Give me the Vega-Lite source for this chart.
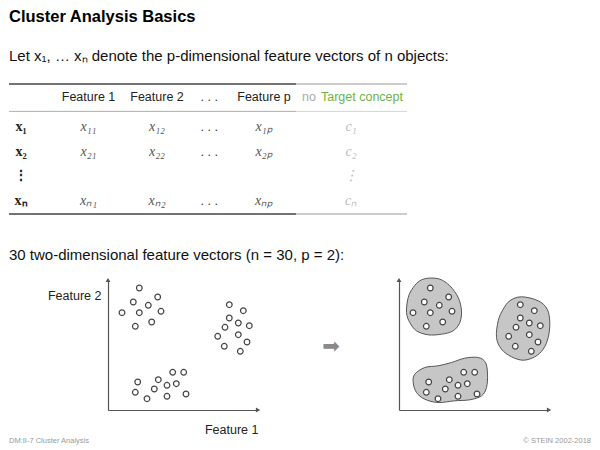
{
  "$schema": "https://vega.github.io/schema/vega-lite/v6.json",
  "background": "white",
  "padding": {"left": 8, "top": 8, "right": 10, "bottom": 2},
  "bounds": "flush",
  "spacing": 66,
  "config": {
    "view": {"stroke": null},
    "font": "Liberation Sans",
    "axis": {"grid": false, "ticks": false, "labels": false, "domainColor": "#555", "domainWidth": 1.2, "titleFont": "Liberation Sans", "titleFontSize": 12.5, "titleFontWeight": "normal", "titleColor": "#222"},
    "title": {"font": "Liberation Sans", "anchor": "start", "frame": "group", "color": "#111"}
  },
  "datasets": {
    "table": [
      {"kind": "header", "row": 0, "col": 1, "label": "Feature 1"},
      {"kind": "header", "row": 0, "col": 2, "label": "Feature 2"},
      {"kind": "dots", "row": 0, "col": 3, "label": ". . ."},
      {"kind": "header", "row": 0, "col": 4, "label": "Feature p"},
      {"kind": "targetNo", "row": 0, "col": 5, "label": "no"},
      {"kind": "targetName", "row": 0, "col": 5, "label": "Target concept"},
      {"kind": "obj", "row": 1, "col": 0, "label": "x₁"},
      {"kind": "value", "row": 1, "col": 1, "label": "x₁₁"},
      {"kind": "value", "row": 1, "col": 2, "label": "x₁₂"},
      {"kind": "dots", "row": 1, "col": 3, "label": ". . ."},
      {"kind": "value", "row": 1, "col": 4, "label": "x₁ₚ"},
      {"kind": "class", "row": 1, "col": 5, "label": "c₁"},
      {"kind": "obj", "row": 2, "col": 0, "label": "x₂"},
      {"kind": "value", "row": 2, "col": 1, "label": "x₂₁"},
      {"kind": "value", "row": 2, "col": 2, "label": "x₂₂"},
      {"kind": "dots", "row": 2, "col": 3, "label": ". . ."},
      {"kind": "value", "row": 2, "col": 4, "label": "x₂ₚ"},
      {"kind": "class", "row": 2, "col": 5, "label": "c₂"},
      {"kind": "obj", "row": 3, "col": 0, "label": "⋮"},
      {"kind": "class", "row": 3, "col": 5, "label": "⋮"},
      {"kind": "obj", "row": 4, "col": 0, "label": "xₙ"},
      {"kind": "value", "row": 4, "col": 1, "label": "xₙ₁"},
      {"kind": "value", "row": 4, "col": 2, "label": "xₙ₂"},
      {"kind": "dots", "row": 4, "col": 3, "label": ". . ."},
      {"kind": "value", "row": 4, "col": 4, "label": "xₙₚ"},
      {"kind": "class", "row": 4, "col": 5, "label": "cₙ"}
    ],
    "rules": [
      {"line": "top", "section": "features", "row": -0.5, "from": -0.5, "to": 4.5},
      {"line": "top", "section": "target", "row": -0.5, "from": 4.5, "to": 5.5},
      {"line": "header", "section": "features", "row": 0.5, "from": -0.5, "to": 4.5},
      {"line": "header", "section": "target", "row": 0.5, "from": 4.5, "to": 5.5},
      {"line": "bottom", "section": "features", "row": 4.5, "from": -0.5, "to": 4.5},
      {"line": "bottom", "section": "target", "row": 4.5, "from": 4.5, "to": 5.5}
    ],
    "points": [
      {"cluster": "A", "f1": 31.3, "f2": 122},
      {"cluster": "A", "f1": 25.3, "f2": 108},
      {"cluster": "A", "f1": 49.7, "f2": 113},
      {"cluster": "A", "f1": 40.3, "f2": 104.7},
      {"cluster": "A", "f1": 14, "f2": 97.3},
      {"cluster": "A", "f1": 31.3, "f2": 97.3},
      {"cluster": "A", "f1": 53, "f2": 98.7},
      {"cluster": "A", "f1": 27.3, "f2": 83.7},
      {"cluster": "A", "f1": 43.7, "f2": 88},
      {"cluster": "B", "f1": 121.3, "f2": 105.3},
      {"cluster": "B", "f1": 135.3, "f2": 99.3},
      {"cluster": "B", "f1": 121.3, "f2": 92},
      {"cluster": "B", "f1": 130.3, "f2": 87},
      {"cluster": "B", "f1": 117, "f2": 82.7},
      {"cluster": "B", "f1": 141.3, "f2": 84.3},
      {"cluster": "B", "f1": 130.3, "f2": 75.3},
      {"cluster": "B", "f1": 109.7, "f2": 73.7},
      {"cluster": "B", "f1": 139, "f2": 68},
      {"cluster": "B", "f1": 116.3, "f2": 63.7},
      {"cluster": "B", "f1": 132.3, "f2": 58.7},
      {"cluster": "C", "f1": 64.7, "f2": 37.7},
      {"cluster": "C", "f1": 75.7, "f2": 37.7},
      {"cluster": "C", "f1": 29.7, "f2": 28},
      {"cluster": "C", "f1": 50.3, "f2": 30.3},
      {"cluster": "C", "f1": 68.3, "f2": 26.3},
      {"cluster": "C", "f1": 59, "f2": 24.7},
      {"cluster": "C", "f1": 46.3, "f2": 21},
      {"cluster": "C", "f1": 27.3, "f2": 17.7},
      {"cluster": "C", "f1": 59, "f2": 13.7},
      {"cluster": "C", "f1": 78, "f2": 16},
      {"cluster": "C", "f1": 39, "f2": 11.3}
    ],
    "blobs": [
      {"cluster": "A", "i": 0, "f1": 29.2, "f2": 131.8},
      {"cluster": "A", "i": 1, "f1": 40.8, "f2": 130.8},
      {"cluster": "A", "i": 2, "f1": 50.8, "f2": 124.2},
      {"cluster": "A", "i": 3, "f1": 59.2, "f2": 112.5},
      {"cluster": "A", "i": 4, "f1": 62.5, "f2": 99.2},
      {"cluster": "A", "i": 5, "f1": 60.8, "f2": 87.5},
      {"cluster": "A", "i": 6, "f1": 54.2, "f2": 79.2},
      {"cluster": "A", "i": 7, "f1": 42.5, "f2": 75.8},
      {"cluster": "A", "i": 8, "f1": 29.2, "f2": 75.2},
      {"cluster": "A", "i": 9, "f1": 17.5, "f2": 79.2},
      {"cluster": "A", "i": 10, "f1": 10.8, "f2": 87.5},
      {"cluster": "A", "i": 11, "f1": 7.5, "f2": 97.5},
      {"cluster": "A", "i": 12, "f1": 9.2, "f2": 112.5},
      {"cluster": "A", "i": 13, "f1": 14.2, "f2": 122.5},
      {"cluster": "A", "i": 14, "f1": 20.8, "f2": 129.2},
      {"cluster": "B", "i": 0, "f1": 122.5, "f2": 113.2},
      {"cluster": "B", "i": 1, "f1": 139.2, "f2": 109.2},
      {"cluster": "B", "i": 2, "f1": 148.2, "f2": 100.8},
      {"cluster": "B", "i": 3, "f1": 150.8, "f2": 87.5},
      {"cluster": "B", "i": 4, "f1": 149.2, "f2": 72.5},
      {"cluster": "B", "i": 5, "f1": 144.2, "f2": 60.8},
      {"cluster": "B", "i": 6, "f1": 135.8, "f2": 53.2},
      {"cluster": "B", "i": 7, "f1": 124.2, "f2": 49.8},
      {"cluster": "B", "i": 8, "f1": 112.5, "f2": 53.2},
      {"cluster": "B", "i": 9, "f1": 102.5, "f2": 60.8},
      {"cluster": "B", "i": 10, "f1": 97.5, "f2": 72.5},
      {"cluster": "B", "i": 11, "f1": 99.2, "f2": 89.2},
      {"cluster": "B", "i": 12, "f1": 104.2, "f2": 100.8},
      {"cluster": "B", "i": 13, "f1": 110.8, "f2": 109.2},
      {"cluster": "C", "i": 0, "f1": 15.8, "f2": 35.8},
      {"cluster": "C", "i": 1, "f1": 25.8, "f2": 42.5},
      {"cluster": "C", "i": 2, "f1": 39.2, "f2": 44.2},
      {"cluster": "C", "i": 3, "f1": 52.5, "f2": 47.5},
      {"cluster": "C", "i": 4, "f1": 65.8, "f2": 51.8},
      {"cluster": "C", "i": 5, "f1": 79.2, "f2": 52.5},
      {"cluster": "C", "i": 6, "f1": 86.5, "f2": 47.5},
      {"cluster": "C", "i": 7, "f1": 88.5, "f2": 35.8},
      {"cluster": "C", "i": 8, "f1": 87.5, "f2": 22.5},
      {"cluster": "C", "i": 9, "f1": 82.5, "f2": 14.2},
      {"cluster": "C", "i": 10, "f1": 70.8, "f2": 10.2},
      {"cluster": "C", "i": 11, "f1": 55.8, "f2": 9.2},
      {"cluster": "C", "i": 12, "f1": 39.2, "f2": 7.5},
      {"cluster": "C", "i": 13, "f1": 25.8, "f2": 10.8},
      {"cluster": "C", "i": 14, "f1": 17.5, "f2": 17.5},
      {"cluster": "C", "i": 15, "f1": 14.2, "f2": 27.5}
    ]
  },
  "vconcat": [
    {
      "width": 398,
      "height": 130,
      "title": {
        "text": "Cluster Analysis Basics",
        "subtitle": "Let x₁, … xₙ denote the p-dimensional feature vectors of n objects:",
        "fontSize": 16.5,
        "fontWeight": "bold",
        "color": "#000",
        "subtitleFont": "Liberation Sans",
        "subtitleFontSize": 15,
        "subtitleColor": "#111",
        "subtitlePadding": 24,
        "offset": 19
      },
      "encoding": {
        "x": {"field": "col", "type": "quantitative", "scale": {"domain": [-0.5, 0, 1, 2, 3, 4, 4.5, 5, 5.5], "range": [0, 12, 79.5, 148, 200.3, 255, 287, 342, 398], "zero": false, "nice": false}, "axis": null},
        "y": {"field": "row", "type": "quantitative", "scale": {"domain": [-0.5, 0, 0.5, 1, 2, 3, 4, 4.5], "range": [0, 13.4, 27.4, 43.4, 68.4, 91.7, 116.7, 130], "zero": false, "nice": false}, "axis": null}
      },
      "layer": [
        {
          "data": {"name": "rules"},
          "transform": [{"filter": "datum.line !== 'header' && datum.section === 'features'"}],
          "mark": {"type": "rule", "color": "#444", "strokeWidth": 1.4},
          "encoding": {"x": {"field": "from", "type": "quantitative"}, "x2": {"field": "to"}}
        },
        {
          "data": {"name": "rules"},
          "transform": [{"filter": "datum.line !== 'header' && datum.section === 'target'"}],
          "mark": {"type": "rule", "color": "#bbbbbb", "strokeWidth": 1.4},
          "encoding": {"x": {"field": "from", "type": "quantitative"}, "x2": {"field": "to"}}
        },
        {
          "data": {"name": "rules"},
          "transform": [{"filter": "datum.line === 'header' && datum.section === 'features'"}],
          "mark": {"type": "rule", "color": "#999999", "strokeWidth": 0.8},
          "encoding": {"x": {"field": "from", "type": "quantitative"}, "x2": {"field": "to"}}
        },
        {
          "data": {"name": "rules"},
          "transform": [{"filter": "datum.line === 'header' && datum.section === 'target'"}],
          "mark": {"type": "rule", "color": "#cccccc", "strokeWidth": 0.8},
          "encoding": {"x": {"field": "from", "type": "quantitative"}, "x2": {"field": "to"}}
        },
        {
          "data": {"name": "table"},
          "transform": [{"filter": "datum.kind === 'header'"}],
          "mark": {"type": "text", "font": "Liberation Sans", "fontSize": 12.5, "color": "#222"},
          "encoding": {"text": {"field": "label"}}
        },
        {
          "data": {"name": "table"},
          "transform": [{"filter": "datum.kind === 'dots'"}],
          "mark": {"type": "text", "font": "Liberation Sans", "fontSize": 12.5, "color": "#333"},
          "encoding": {"text": {"field": "label"}}
        },
        {
          "data": {"name": "table"},
          "transform": [{"filter": "datum.kind === 'targetNo'"}],
          "mark": {"type": "text", "font": "Liberation Sans", "fontSize": 12.5, "color": "#aaaaaa", "align": "right", "dx": -35},
          "encoding": {"text": {"field": "label"}}
        },
        {
          "data": {"name": "table"},
          "transform": [{"filter": "datum.kind === 'targetName'"}],
          "mark": {"type": "text", "font": "Liberation Sans", "fontSize": 12.5, "color": "#6db33f", "align": "left", "dx": -30},
          "encoding": {"text": {"field": "label"}}
        },
        {
          "data": {"name": "table"},
          "transform": [{"filter": "datum.kind === 'obj'"}],
          "mark": {"type": "text", "font": "Liberation Serif", "fontSize": 14, "fontWeight": "bold", "color": "#222"},
          "encoding": {"text": {"field": "label"}}
        },
        {
          "data": {"name": "table"},
          "transform": [{"filter": "datum.kind === 'value'"}],
          "mark": {"type": "text", "font": "Liberation Serif", "fontSize": 14, "fontStyle": "italic", "color": "#555"},
          "encoding": {"text": {"field": "label"}}
        },
        {
          "data": {"name": "table"},
          "transform": [{"filter": "datum.kind === 'class'"}],
          "mark": {"type": "text", "font": "Liberation Serif", "fontSize": 14, "fontStyle": "italic", "color": "#bbbbbb"},
          "encoding": {"text": {"field": "label"}}
        }
      ]
    },
    {
      "title": {"text": "30 two-dimensional feature vectors (n = 30, p = 2):", "fontSize": 15, "fontWeight": "normal", "color": "#111", "offset": 13},
      "bounds": "full",
      "spacing": 1,
      "vconcat": [
        {
          "bounds": "flush",
          "spacing": 0,
          "hconcat": [
            {
              "width": 99,
              "height": 130,
              "data": {"values": [{}]},
              "mark": {"type": "point", "opacity": 0}
            },
            {
              "width": 150,
              "height": 130,
              "layer": [
                {
                  "data": {"name": "points"},
                  "mark": {"type": "point", "shape": "circle", "filled": true, "fill": "white", "stroke": "#444", "strokeWidth": 1.2, "size": 32, "opacity": 1},
                  "encoding": {
                    "x": {"field": "f1", "type": "quantitative", "scale": {"domain": [0, 150], "nice": false}, "axis": {"title": "Feature 1", "titleX": 150, "titleY": 19, "titleAlign": "right", "titleBaseline": "middle"}},
                    "y": {"field": "f2", "type": "quantitative", "scale": {"domain": [0, 130], "nice": false}, "axis": {"title": "Feature 2", "titleAngle": 0, "titleX": -7, "titleY": 15, "titleAlign": "right", "titleBaseline": "middle"}}
                  }
                },
                {
                  "data": {"values": [{}]},
                  "mark": {"type": "point", "shape": "triangle-up", "filled": true, "color": "#555", "size": 24, "opacity": 1},
                  "encoding": {"x": {"datum": 0, "type": "quantitative"}, "y": {"datum": 130, "type": "quantitative"}}
                },
                {
                  "data": {"values": [{}]},
                  "mark": {"type": "point", "shape": "triangle-right", "filled": true, "color": "#555", "size": 24, "opacity": 1},
                  "encoding": {"x": {"datum": 150, "type": "quantitative"}, "y": {"datum": 0, "type": "quantitative"}}
                }
              ]
            },
            {
              "width": 141,
              "height": 130,
              "data": {"values": [{"symbol": "➡"}]},
              "mark": {"type": "text", "font": "DejaVu Sans", "fontSize": 21, "color": "#8a8a8a", "dx": 2.5, "dy": 2},
              "encoding": {"text": {"field": "symbol"}}
            },
            {
              "width": 150,
              "height": 130,
              "layer": [
                {
                  "data": {"name": "blobs"},
                  "mark": {"type": "line", "interpolate": "cardinal-closed", "fill": "#c6c6c6", "stroke": "#555", "strokeWidth": 1},
                  "encoding": {
                    "x": {"field": "f1", "type": "quantitative", "scale": {"domain": [0, 150], "nice": false}, "axis": {"title": null}},
                    "y": {"field": "f2", "type": "quantitative", "scale": {"domain": [0, 130], "nice": false}, "axis": {"title": null}},
                    "detail": {"field": "cluster"},
                    "order": {"field": "i"}
                  }
                },
                {
                  "data": {"name": "points"},
                  "mark": {"type": "point", "shape": "circle", "filled": true, "fill": "white", "stroke": "#444", "strokeWidth": 1.2, "size": 32, "opacity": 1},
                  "encoding": {
                    "x": {"field": "f1", "type": "quantitative"},
                    "y": {"field": "f2", "type": "quantitative"}
                  }
                },
                {
                  "data": {"values": [{}]},
                  "mark": {"type": "point", "shape": "triangle-up", "filled": true, "color": "#555", "size": 24, "opacity": 1},
                  "encoding": {"x": {"datum": 0, "type": "quantitative"}, "y": {"datum": 130, "type": "quantitative"}}
                },
                {
                  "data": {"values": [{}]},
                  "mark": {"type": "point", "shape": "triangle-right", "filled": true, "color": "#555", "size": 24, "opacity": 1},
                  "encoding": {"x": {"datum": 150, "type": "quantitative"}, "y": {"datum": 0, "type": "quantitative"}}
                }
              ]
            }
          ]
        },
        {
          "width": 582,
          "height": 2,
          "data": {"values": [{"side": "left", "label": "DM:II-7   Cluster Analysis"}, {"side": "right", "label": "© STEIN 2002-2018"}]},
          "encoding": {
            "x": {"field": "side", "type": "nominal", "scale": {"type": "point", "domain": ["left", "right"], "padding": 0}, "axis": null},
            "text": {"field": "label"}
          },
          "layer": [
            {"transform": [{"filter": "datum.side === 'left'"}], "mark": {"type": "text", "align": "left", "fontSize": 7.5, "color": "#999"}},
            {"transform": [{"filter": "datum.side === 'right'"}], "mark": {"type": "text", "align": "right", "fontSize": 7.5, "color": "#999"}}
          ]
        }
      ]
    }
  ]
}
